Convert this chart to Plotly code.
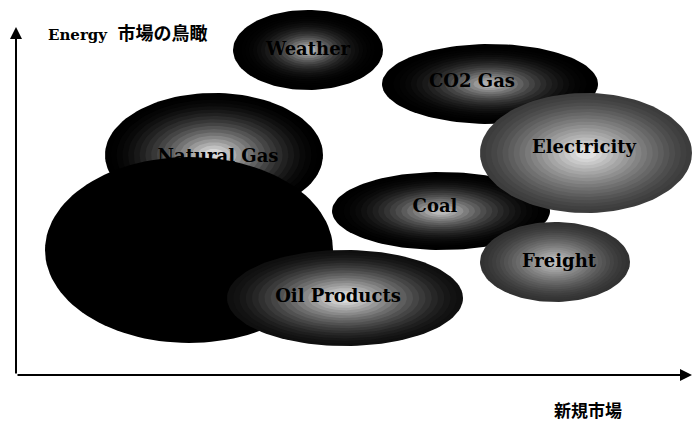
import numpy as np
import plotly.graph_objects as go

# ---- data (diagram units, x to the right, y upward) ----
markets = ["Weather", "CO2 Gas", "Natural Gas", "", "Coal", "Electricity", "Freight", "Oil Products"]
center_x = [308, 490, 214, 189, 441, 586, 555, 345]
center_y = [373, 339, 268, 173, 212, 270, 161, 125]
radius_x = [75, 108, 109, 144, 109, 106, 75, 118]
radius_y = [40, 40, 62, 93, 39, 60, 40, 48]
label_x = [308, 472, 218, 189, 435, 584, 559, 338]
label_y = [373, 341, 266, 173, 216, 275, 161, 126]
edge_gray = [0, 0, 0, 0, 0, 60, 50, 15]
core_gray = [175, 175, 215, 0, 185, 225, 190, 220]
core_power = [2.6, 2.2, 1.8, 1.0, 2.0, 1.3, 1.4, 1.5]

title_text = "Energy  <span style='font-size:18px'>市場の鳥瞰</span>"
x_axis_label = "新規市場"

fig = go.Figure()
theta = np.linspace(0, 2 * np.pi, 121)
levels = 18
for i in range(len(markets)):
    for k in range(levels):
        t = k / (levels - 1)
        s = 1 - 0.9 * t
        g = int(round(edge_gray[i] + (core_gray[i] - edge_gray[i]) * t ** core_power[i]))
        fig.add_trace(go.Scatter(
            x=center_x[i] + radius_x[i] * s * np.cos(theta),
            y=center_y[i] + radius_y[i] * s * np.sin(theta),
            mode="lines", fill="toself",
            fillcolor=f"rgb({g},{g},{g})",
            line=dict(width=0, color=f"rgb({g},{g},{g})"),
            hoverinfo="skip", showlegend=False))
    if markets[i]:
        fig.add_trace(go.Scatter(
            x=[label_x[i]], y=[label_y[i]], mode="text", text=[markets[i]],
            textfont=dict(family="DejaVu Serif", size=18, color="black", weight="bold"),
            hoverinfo="skip", showlegend=False))

# axes arrows
fig.add_annotation(x=16, y=396, ax=16, ay=48, xref="x", yref="y", axref="x", ayref="y",
                   showarrow=True, arrowhead=2, arrowsize=1.2, arrowwidth=2, arrowcolor="black", text="")
fig.add_annotation(x=692, y=48, ax=16, ay=48, xref="x", yref="y", axref="x", ayref="y",
                   showarrow=True, arrowhead=2, arrowsize=1.2, arrowwidth=2, arrowcolor="black", text="")

fig.add_annotation(x=46, y=390, xref="x", yref="y", text=title_text, showarrow=False,
                   xanchor="left", yanchor="middle",
                   font=dict(family="DejaVu Serif, Noto Sans CJK JP", size=15, color="black", weight="bold"))
fig.add_annotation(x=588, y=14, xref="x", yref="y", text=x_axis_label, showarrow=False,
                   xanchor="center", yanchor="middle",
                   font=dict(family="Noto Sans CJK JP", size=17, color="black", weight="bold"))

fig.update_layout(
    width=694, height=423, margin=dict(l=0, r=0, t=0, b=0),
    paper_bgcolor="white", plot_bgcolor="white",
    xaxis=dict(range=[0, 694], visible=False, fixedrange=True),
    yaxis=dict(range=[0, 423], visible=False, fixedrange=True),
)
fig.write_html("out.html")
